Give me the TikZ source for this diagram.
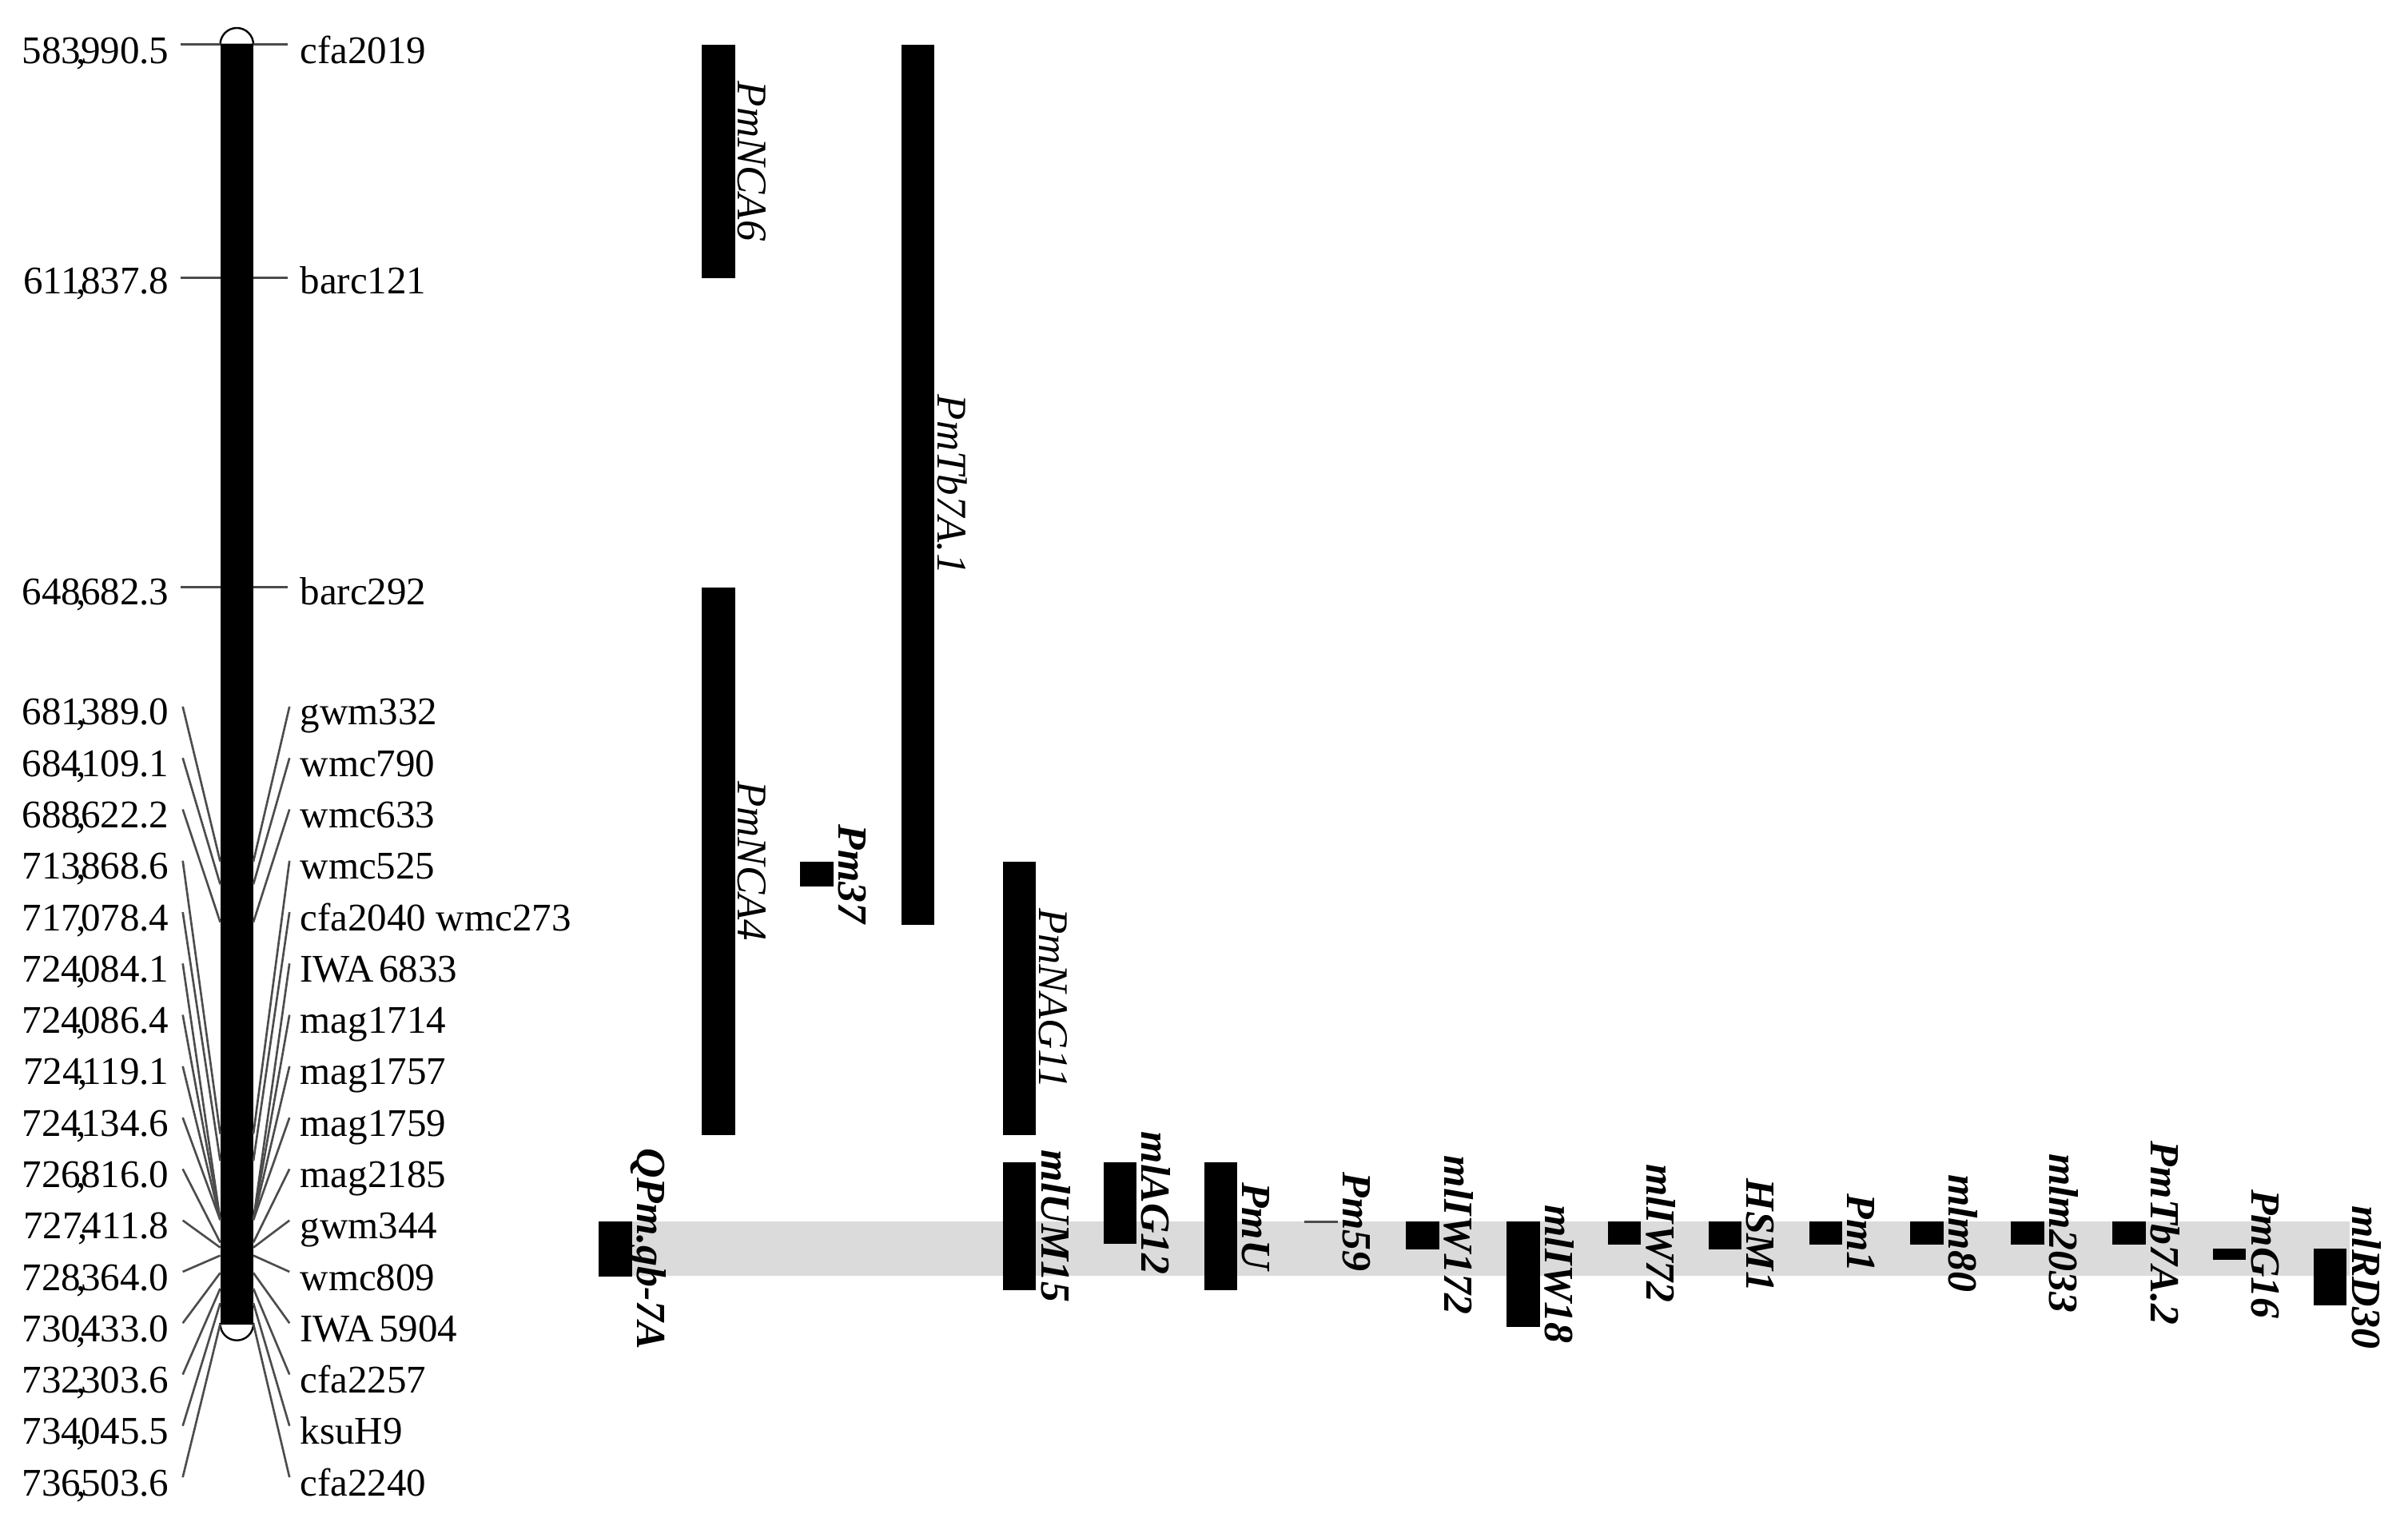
\documentclass[tikz,border=0pt]{standalone}
\usepackage{fontspec}
\setmainfont{Liberation Serif}
\newcommand\thsep{\kern-.12em,\kern-.13em}
\begin{document}
\begin{tikzpicture}[x=0.4pt,y=-0.4pt,
  lbl/.style={inner sep=0pt, font=\fontsize{10.2}{12}\selectfont},
  gene/.style={rotate=-90, anchor=base, inner sep=0pt, font=\fontsize{11}{13}\selectfont\itshape},
  geneb/.style={rotate=-90, anchor=base, inner sep=0pt, font=\fontsize{10.8}{13}\selectfont\bfseries\itshape},
  fan/.style={draw=black!70, line width=0.55pt},
  chrom/.style={fill=black},
  barbox/.style={fill=black}]
\useasboundingbox (0,0) rectangle (1568,993);
% highlighted band
\fill[black!14] (390,795) rectangle (1530,830.5);
% chromosome
\fill[chrom] (143.4,29) rectangle (165,861.8);
\draw[fill=white, line width=0.5pt] (143.4,29) arc[start angle=180,end angle=360,radius=10.8] -- cycle;
\draw[fill=white, line width=0.5pt] (143.4,861.8) arc[start angle=180,end angle=0,radius=10.8] -- cycle;
% top three markers
\foreach \j/\yt/\yb/\numtxt/\mktxt in {1/29/41.5/583\thsep990.5/cfa2019, 2/181/191.5/611\thsep837.8/barc121, 3/382.3/393.5/648\thsep682.3/barc292}{
  \node[lbl,anchor=base east] (T\j) at (110.5,\yb) {\numtxt};
  \node[lbl,anchor=base west] (M\j) at (195,\yb) {\mktxt};
  \coordinate (Tl\j) at (117.6,\yt);
  \coordinate (Tc\j) at (143.4,\yt);
  \coordinate (Mc\j) at (165,\yt);
  \coordinate (Mr\j) at (187.3,\yt);
  \draw[fan] (Tl\j) -- (Tc\j);
  \draw[fan] (Mc\j) -- (Mr\j);
}
% fanned markers
\foreach \i/\d/\numtxt/\mktxt in {
 0/97.3985/681\thsep389.0/gwm332,
 1/100.1186/684\thsep109.1/wmc790,
 2/104.6317/688\thsep622.2/wmc633,
 3/129.8781/713\thsep868.6/wmc525,
 4/133.0879/717\thsep078.4/cfa2040 wmc273,
 5/140.0936/724\thsep084.1/IWA\kern.12em 6833,
 6/140.0959/724\thsep086.4/mag1714,
 7/140.1286/724\thsep119.1/mag1757,
 8/140.1441/724\thsep134.6/mag1759,
 9/142.8255/726\thsep816.0/mag2185,
 10/143.4213/727\thsep411.8/gwm344,
 11/144.3735/728\thsep364.0/wmc809,
 12/146.4425/730\thsep433.0/IWA\kern.12em 5904,
 13/148.3131/732\thsep303.6/cfa2257,
 14/150.055/734\thsep045.5/ksuH9,
 15/152.5131/736\thsep503.6/cfa2240}{
 \pgfmathsetmacro\yl{463.5+33.45*\i}
 \pgfmathsetmacro\yc{29+5.4606*\d}
 \node[lbl,anchor=base east] (L\i) at (110.5,\yl+8.5) {\numtxt};
 \node[lbl,anchor=base west] (R\i) at (195,\yl+8.5) {\mktxt};
 \coordinate (Lo\i) at (119,\yl-3.5);
 \coordinate (Li\i) at (143.4,\yc);
 \coordinate (Ro\i) at (188.5,\yl-3.5);
 \coordinate (Ri\i) at (165,\yc);
 \draw[fan] (Lo\i) -- (Li\i);
 \draw[fan] (Ro\i) -- (Ri\i);
}
% resistance gene intervals (regular labels)
\foreach \nm/\xl/\yt/\yb/\txt in {
 a1/457/29/181/PmNCA6,
 a2/587/29/602/PmTb7A.1,
 a3/457/382.3/739/PmNCA4,
 a4/653/561/739/PmNAG11}{
 \fill[barbox] (\xl,\yt) rectangle (\xl+21.6,\yb);
 \node[gene] (\nm) at (\xl+23.6,{(\yt+\yb)/2}) {\txt};
}
% resistance gene intervals (bold labels)
\foreach \nm/\xl/\yt/\yb/\txt in {
 b1/521/561/577/Pm37,
 b2/390/795/831/QPm.gb-7A,
 b3/653/756.5/840/mlUM15,
 b4/718.5/756.5/810/mlAG12,
 b5/784/756.5/840/PmU,
 b7/915.5/795/813.5/mlIW172,
 b8/981/795/864/mlIW18,
 b9/1047/795/810.5/mlIW72,
 b10/1112.5/795/813.5/HSM1,
 b11/1178/795/810.5/Pm1,
 b12/1244/795/810.5/mlm80,
 b13/1309.5/795/810.5/mlm2033,
 b14/1375.5/795/810.5/PmTb7A.2,
 b15/1441/813/820/PmG16,
 b16/1506.5/813/850/mlRD30}{
 \fill[barbox] (\xl,\yt) rectangle (\xl+21.6,\yb);
 \node[geneb] (\nm) at (\xl+25.1,{(\yt+\yb)/2}) {\txt};
}
% Pm59 (very short interval)
\fill[black!70] (849.5,794.5) rectangle (871.1,796.3);
\node[geneb] (b6) at (874.6,795.4) {Pm59};
\end{tikzpicture}
\end{document}
